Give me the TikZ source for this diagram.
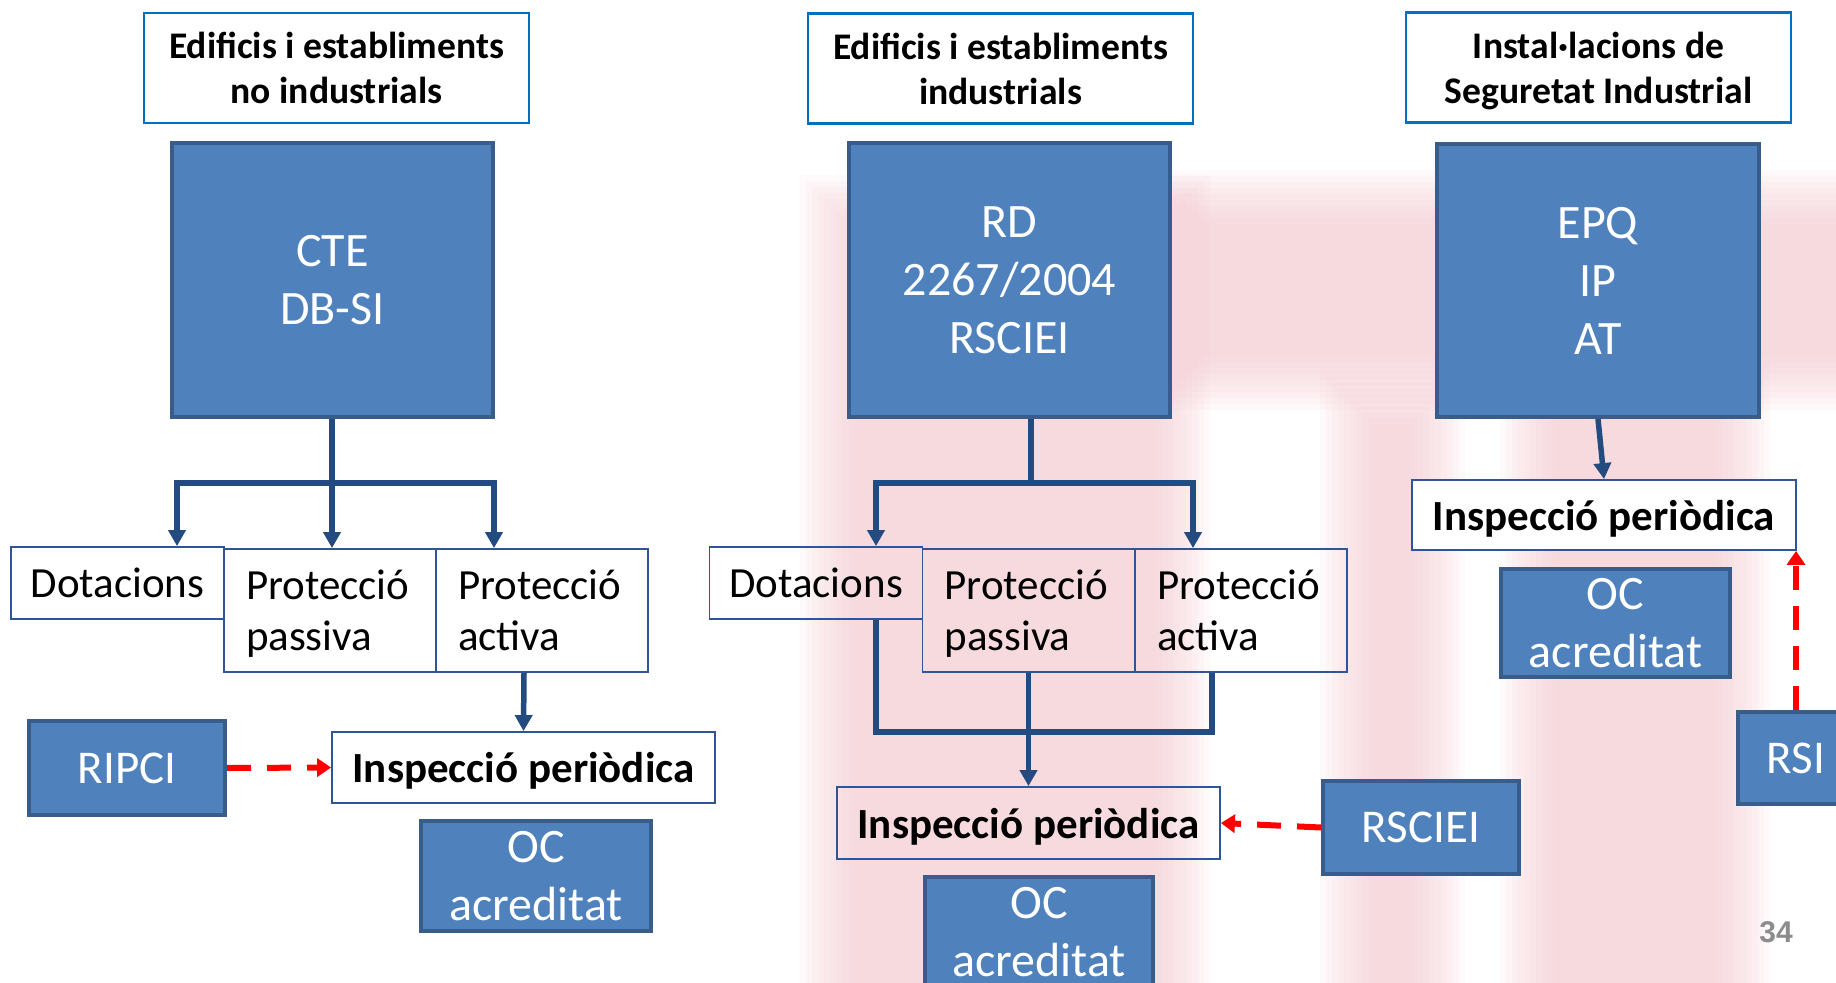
\documentclass[tikz,border=0pt]{standalone}
\usepackage{fontspec}
\setmainfont{Carlito}
\newfontfamily\numfont{Liberation Sans}
\usetikzlibrary{arrows.meta}
\definecolor{bfill}{HTML}{4F81BD}
\definecolor{bborder}{HTML}{385D8A}
\definecolor{tborder}{HTML}{0070C0}
\definecolor{cborder}{HTML}{2F5597}
\definecolor{connc}{HTML}{234B80}
\definecolor{pinkbg}{RGB}{246,205,212}
\definecolor{numgray}{RGB}{140,140,140}
\newcommand\fTitle{\bfseries\fontsize{18.8}{22.5}\selectfont}
\newcommand\fBig{\fontsize{24}{29}\selectfont}
\newcommand\fCat{\fontsize{21.5}{25.5}\selectfont}
\newcommand\fInsp{\bfseries\fontsize{21.5}{25.5}\selectfont}
\newcommand\fReg{\fontsize{23.5}{28}\selectfont}
\newcommand\nodepth[1]{\raisebox{0pt}[\height][0pt]{#1}}
\newcommand\softfill[4]{\foreach \k in {0,...,9}{\fill[pinkbg, opacity=0.11] ({#1+\k*6},{#2+\k*6}) rectangle ({#3-\k*6},{#4-\k*6});}}
\tikzset{
  titlebox/.style={draw=tborder, line width=1.2pt, fill=white, align=center, inner sep=0pt, font=\fTitle, minimum width=192.5pt, minimum height=55pt},
  bluebox/.style={draw=bborder, line width=2pt, fill=bfill, text=white, align=center, inner sep=0pt, font=\fBig},
  catbox/.style={draw=cborder, line width=0.9pt, align=center, inner sep=0pt, font=\fCat, minimum width=106.5pt, minimum height=36pt},
  catbox2/.style={draw=cborder, line width=0.9pt, align=left, inner xsep=11pt, inner ysep=0pt, text width=84pt, font=\fCat, minimum height=61.5pt},
  inspbox/.style={draw=cborder, line width=0.9pt, inner sep=0pt, font=\fInsp, text depth=0pt, minimum width=191.5pt, minimum height=35.5pt},
  connline/.style={draw=connc, line width=2.75pt, line join=miter},
  conn/.style={draw=connc, line width=2.75pt, -{Triangle[length=8pt,width=8.5pt]}},
  redarrow/.style={draw=red, line width=3pt, dash pattern=on 12pt off 8pt, -{Triangle[length=7pt,width=9pt]}},
}
\begin{document}
\begin{tikzpicture}[x=0.5pt,y=-0.5pt]
\useasboundingbox (0,0) rectangle (1836,983);
\clip (0,0) rectangle (1836,983);
\fill[white] (0,0) rectangle (1836,983);
% faint blurred background watermark
\softfill{800}{175}{1210}{1040}
\softfill{1150}{170}{1900}{410}
\softfill{1320}{370}{1465}{1040}
\softfill{1500}{360}{1770}{1040}

% titles
\node[titlebox] (t1) at (336.5,68) {Edificis i establiments\\no industrials};
\node[titlebox] (t2) at (1000.5,68.5) {Edificis i establiments\\industrials};
\node[titlebox] (t3) at (1598.5,67.5) {Instal·lacions de\\\nodepth{Seguretat Industrial}};

% main blue boxes
\node[bluebox, minimum width=160.5pt, minimum height=137pt] (cte) at (332.5,280) {CTE\\DB-SI};
\node[bluebox, minimum width=160.5pt, minimum height=137pt] (rd) at (1009.5,280) {RD\\2267/2004\\RSCIEI};
\node[bluebox, minimum width=161pt, minimum height=136.5pt] (epq) at (1598,280.5) {EPQ\\IP\\AT};

% left column categories
\node[catbox] (d1) at (117.5,583) {Dotacions};
\node[catbox2] (p1) at (330,610.5) {Protecció\\\nodepth{passiva}};
\node[catbox2] (a1) at (542,610.5) {Protecció\\activa};

% middle column categories
\node[catbox] (d2) at (816,583) {Dotacions};
\node[catbox2] (p2) at (1028.5,610.5) {Protecció\\\nodepth{passiva}};
\node[catbox2] (a2) at (1241,610.5) {Protecció\\activa};

% inspections
\node[inspbox] (i1) at (523.5,767.5) {Inspecció periòdica};
\node[inspbox, minimum height=36pt] (i2) at (1028.5,823) {Inspecció periòdica};
\node[inspbox, minimum width=192pt, minimum height=35pt, fill=white] (i3) at (1604,515) {Inspecció periòdica};

% regulation boxes
\node[bluebox, minimum width=98pt, minimum height=47pt, font=\fReg] (ripci) at (127,768) {RIPCI};
\node[bluebox, minimum width=98pt, minimum height=46.5pt, font=\fReg] (rsciei) at (1421,827.5) {RSCIEI};
\node[bluebox, minimum width=58pt, minimum height=46pt, font=\fReg] (rsi) at (1796,758) {RSI};

% OC boxes
\node[bluebox, minimum width=115pt, minimum height=55pt] (oc1) at (536,876) {OC\\acreditat};
\node[bluebox, minimum width=114pt, minimum height=55pt] (oc2) at (1039,932) {OC\\acreditat};
\node[bluebox, minimum width=114.5pt, minimum height=54pt] (oc3) at (1615.5,623) {OC\\acreditat};

% left connectors
\coordinate (lb) at (332,483);
\coordinate (ll) at (177,483);
\coordinate (lr) at (494,483);
\draw[connline] (cte.south -| lb) -- (lb);
\draw[connline, line cap=rect] (ll) -- (lr);
\draw[conn] (ll) -- (ll |- d1.north);
\draw[conn] (lb) -- (lb |- p1.north);
\draw[conn] (lr) -- (lr |- a1.north);
\draw[conn] ([xshift=-9pt]a1.south) -- (i1.north);

% middle connectors
\coordinate (mb) at (1031,483);
\coordinate (ml) at (876,483);
\coordinate (mr) at (1193,483);
\draw[connline] (rd.south -| mb) -- (mb);
\draw[connline, line cap=rect] (ml) -- (mr);
\draw[conn] (ml) -- (ml |- d2.north);
\draw[conn] (mr) -- (mr |- a2.north);
\coordinate (ql) at (876,732);
\coordinate (qr) at (1212,732);
\draw[connline] (ql |- d2.south) -- (ql) -- (qr) -- (qr |- a2.south);
\draw[conn] (p2.south) -- (i2.north);

% right connector
\draw[conn] (epq.south) -- (i3.north);

% red dashed arrows
\draw[redarrow] (ripci.east) -- (i1.west);
\draw[redarrow] (rsciei.west) -- (i2.east);
\draw[redarrow] (rsi.north) -- (rsi.north |- i3.south);

% page number
\node[font=\numfont\bfseries\fontsize{15}{18}\selectfont, text=numgray] (pg) at (1776,932) {34};
\end{tikzpicture}
\end{document}
